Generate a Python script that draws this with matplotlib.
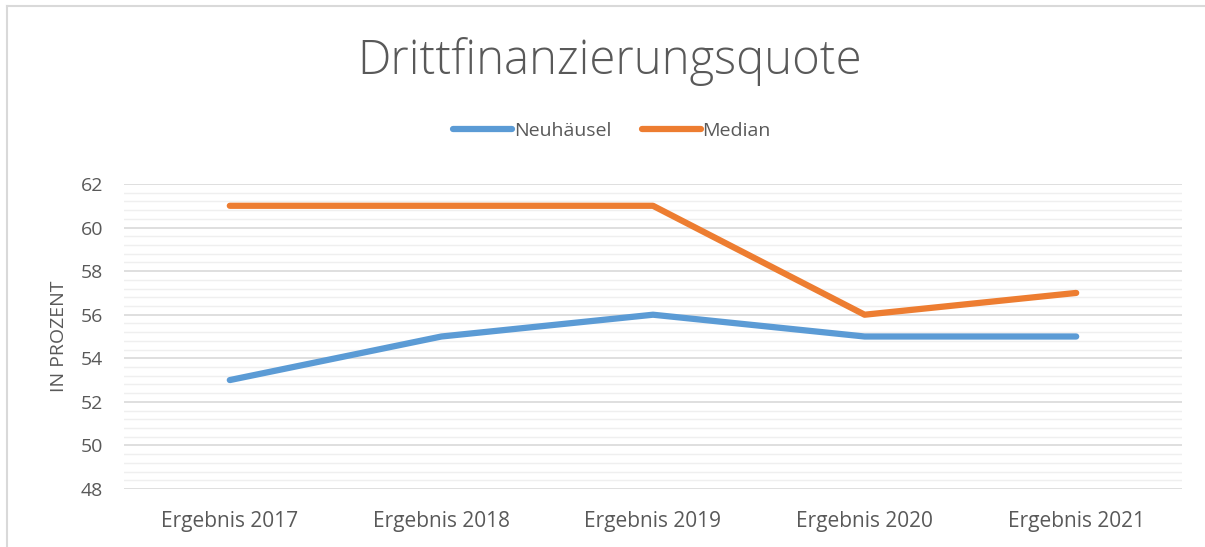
import numpy as np
import matplotlib.pyplot as plt
from matplotlib.lines import Line2D
from matplotlib.ticker import MultipleLocator

categories = ["Ergebnis 2017", "Ergebnis 2018", "Ergebnis 2019", "Ergebnis 2020", "Ergebnis 2021"]
neuhaeusel = [53, 55, 56, 55, 55]
median = [61, 61, 61, 56, 57]

plt.rcParams['font.family'] = ['Open Sans', 'DejaVu Sans']
TEXT = '#595959'
FS = 14

fig = plt.figure(figsize=(12.05, 5.47), dpi=100)
ax = fig.add_axes([124/1205, 1-489/547, 1058/1205, 305/547])

x = np.arange(len(categories))
ax.plot(x, neuhaeusel, color='#5B9BD5', lw=4.5, solid_capstyle='round', solid_joinstyle='round', label='Neuhäusel', zorder=3)
ax.plot(x, median, color='#ED7D31', lw=4.5, solid_capstyle='round', solid_joinstyle='round', label='Median', zorder=3)

ax.set_xlim(-0.5, len(categories)-0.5)
ax.set_ylim(48, 62)
ax.yaxis.set_major_locator(MultipleLocator(2))
ax.yaxis.set_minor_locator(MultipleLocator(0.4))
ax.set_xticks(x)
ax.set_xticklabels(categories)
ax.grid(axis='y', which='major', color='#D9D9D9', lw=1.2, zorder=0)
ax.grid(axis='y', which='minor', color='#EFEFEF', lw=1.0, zorder=0)
ax.set_axisbelow(True)
for s in ax.spines.values():
    s.set_visible(False)
ax.tick_params(axis='both', which='both', length=0, labelsize=FS, colors=TEXT)
ax.tick_params(axis='x', pad=16, labelsize=15)
ax.tick_params(axis='y', pad=15)
ax.set_ylabel('IN PROZENT', fontsize=FS, color=TEXT, labelpad=9)

fig.text(0.506, 1-62/547, 'Drittfinanzierungsquote', ha='center', va='center', fontsize=34, color=TEXT, fontweight='light')
fig.legend(loc='center', bbox_to_anchor=(0.508, 1-131/547), ncol=2, frameon=False,
           fontsize=FS, labelcolor=TEXT, handlelength=3.0, handletextpad=0.1, columnspacing=1.6)

# chart frame: only top and left edge visible in the reference
fig.lines.append(Line2D([7/1205, 1.0], [1-5.5/547]*2, transform=fig.transFigure, color='#D9D9D9', lw=1.5))
fig.lines.append(Line2D([7/1205]*2, [0.0, 1-5.5/547], transform=fig.transFigure, color='#D9D9D9', lw=1.5))

fig.savefig('out.png', dpi=100)
